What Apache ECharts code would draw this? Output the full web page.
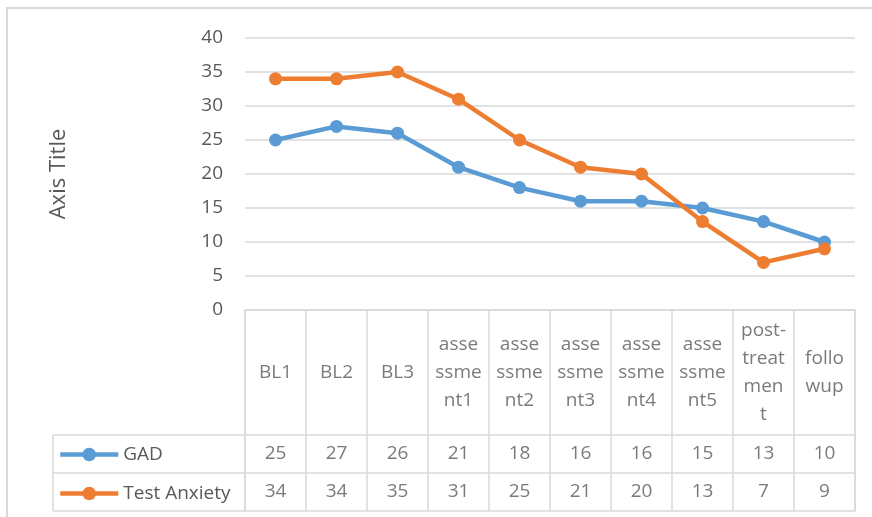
<!DOCTYPE html>
<html>
<head>
<meta charset="utf-8">
<script src="https://cdn.jsdelivr.net/npm/echarts@6/dist/echarts.min.js"></script>
<style>
  html, body { margin: 0; padding: 0; background: #fff; }
  #main { width: 872px; height: 517px; }
</style>
</head>
<body>
<div id="main"></div>
<script>
// chart data
var categories = ['BL1', 'BL2', 'BL3', 'assessment1', 'assessment2', 'assessment3',
  'assessment4', 'assessment5', 'post-treatment', 'followup'];
// header cells as Excel wrapped them
var headerLabels = ['BL1', 'BL2', 'BL3', 'asse\nssme\nnt1', 'asse\nssme\nnt2', 'asse\nssme\nnt3',
  'asse\nssme\nnt4', 'asse\nssme\nnt5', 'post-\ntreat\nmen\nt', 'follo\nwup'];
var gad = [25, 27, 26, 21, 18, 16, 16, 15, 13, 10];
var testAnxiety = [34, 34, 35, 31, 25, 21, 20, 13, 7, 9];
var yTicks = [0, 5, 10, 15, 20, 25, 30, 35, 40];

var FONT = '"Open Sans", "Noto Sans", sans-serif';
var TXT = '#595959';
var RULE = '#d9d9d9';
var FS = 19;

// table geometry (pixels): header row then two data rows
var headH = 125, rowH = 38;
var tableH = headH + 2 * rowH;

var tableCells = [];
headerLabels.forEach(function (t, i) {
  tableCells.push({ value: [i, headH / 2], label: { formatter: t } });
});
gad.forEach(function (v, i) {
  tableCells.push({ value: [i, headH + rowH / 2], label: { formatter: String(v) } });
});
testAnxiety.forEach(function (v, i) {
  tableCells.push({ value: [i, headH + rowH * 1.5], label: { formatter: String(v) } });
});

var chart = echarts.init(document.getElementById('main'));

var option = {
  animation: false,
  textStyle: { fontFamily: FONT },
  grid: [
    { left: 245, right: 17, top: 38, bottom: 207 },
    { left: 245, right: 17, top: 310, bottom: 517 - 310 - tableH, show: true,
      borderColor: RULE, borderWidth: 1.5 }
  ],
  legend: {
    orient: 'vertical',
    left: 53,
    top: 440,
    itemWidth: 58,
    itemHeight: 17,
    itemGap: 20,
    data: ['GAD', 'Test Anxiety'],
    lineStyle: { width: 4.5 },
    textStyle: { color: TXT, fontSize: FS, lineHeight: 17, fontFamily: FONT }
  },
  xAxis: [
    {
      gridIndex: 0, type: 'category', data: categories, boundaryGap: true,
      axisLine: { show: false }, axisTick: { show: false }, axisLabel: { show: false }
    },
    {
      gridIndex: 1, type: 'category', data: categories, boundaryGap: true,
      axisLine: { show: false }, axisTick: { show: false }, axisLabel: { show: false },
      splitLine: { show: true, interval: 0, lineStyle: { color: RULE, width: 1.5 } }
    }
  ],
  yAxis: [
    {
      gridIndex: 0, type: 'value', min: yTicks[0], max: yTicks[yTicks.length - 1], interval: 5,
      name: 'Axis Title', nameLocation: 'middle', nameGap: 175, nameRotate: 90,
      nameTextStyle: { color: TXT, fontSize: 22, fontFamily: FONT },
      axisLine: { show: false }, axisTick: { show: false },
      axisLabel: { color: TXT, fontSize: FS, margin: 22, fontFamily: FONT },
      splitLine: { lineStyle: { color: RULE, width: 1.5 } }
    },
    {
      gridIndex: 1, type: 'value', min: 0, max: tableH, inverse: true, show: false
    }
  ],
  series: [
    {
      name: 'GAD', type: 'line', data: gad, xAxisIndex: 0, yAxisIndex: 0,
      symbol: 'circle', symbolSize: 13,
      itemStyle: { color: '#5B9BD5' },
      lineStyle: { color: '#5B9BD5', width: 4.5 }
    },
    {
      name: 'Test Anxiety', type: 'line', data: testAnxiety, xAxisIndex: 0, yAxisIndex: 0,
      symbol: 'circle', symbolSize: 13,
      itemStyle: { color: '#ED7D31' },
      lineStyle: { color: '#ED7D31', width: 4.5 }
    },
    {
      name: 'table', type: 'scatter', xAxisIndex: 1, yAxisIndex: 1,
      data: tableCells, symbolSize: 1, silent: true,
      itemStyle: { color: 'rgba(0,0,0,0)' },
      label: { show: true, position: 'inside', color: TXT, fontSize: FS,
        lineHeight: 28, fontFamily: FONT }
    }
  ],
  graphic: [
    { type: 'rect', shape: { x: 7, y: 8, width: 900, height: 600 },
      style: { fill: 'none', stroke: RULE, lineWidth: 2 }, silent: true },
    // legend column rules of the data table
    { type: 'line', shape: { x1: 53, y1: 310 + headH, x2: 245, y2: 310 + headH },
      style: { stroke: RULE, lineWidth: 1.5 } },
    { type: 'line', shape: { x1: 53, y1: 310 + headH + rowH, x2: 855, y2: 310 + headH + rowH },
      style: { stroke: RULE, lineWidth: 1.5 } },
    { type: 'line', shape: { x1: 53, y1: 310 + tableH, x2: 245, y2: 310 + tableH },
      style: { stroke: RULE, lineWidth: 1.5 } },
    { type: 'line', shape: { x1: 245, y1: 310 + headH, x2: 855, y2: 310 + headH },
      style: { stroke: RULE, lineWidth: 1.5 } },
    { type: 'line', shape: { x1: 53, y1: 310 + headH, x2: 53, y2: 310 + tableH },
      style: { stroke: RULE, lineWidth: 1.5 } }
  ]
};

chart.setOption(option);
</script>
</body>
</html>
